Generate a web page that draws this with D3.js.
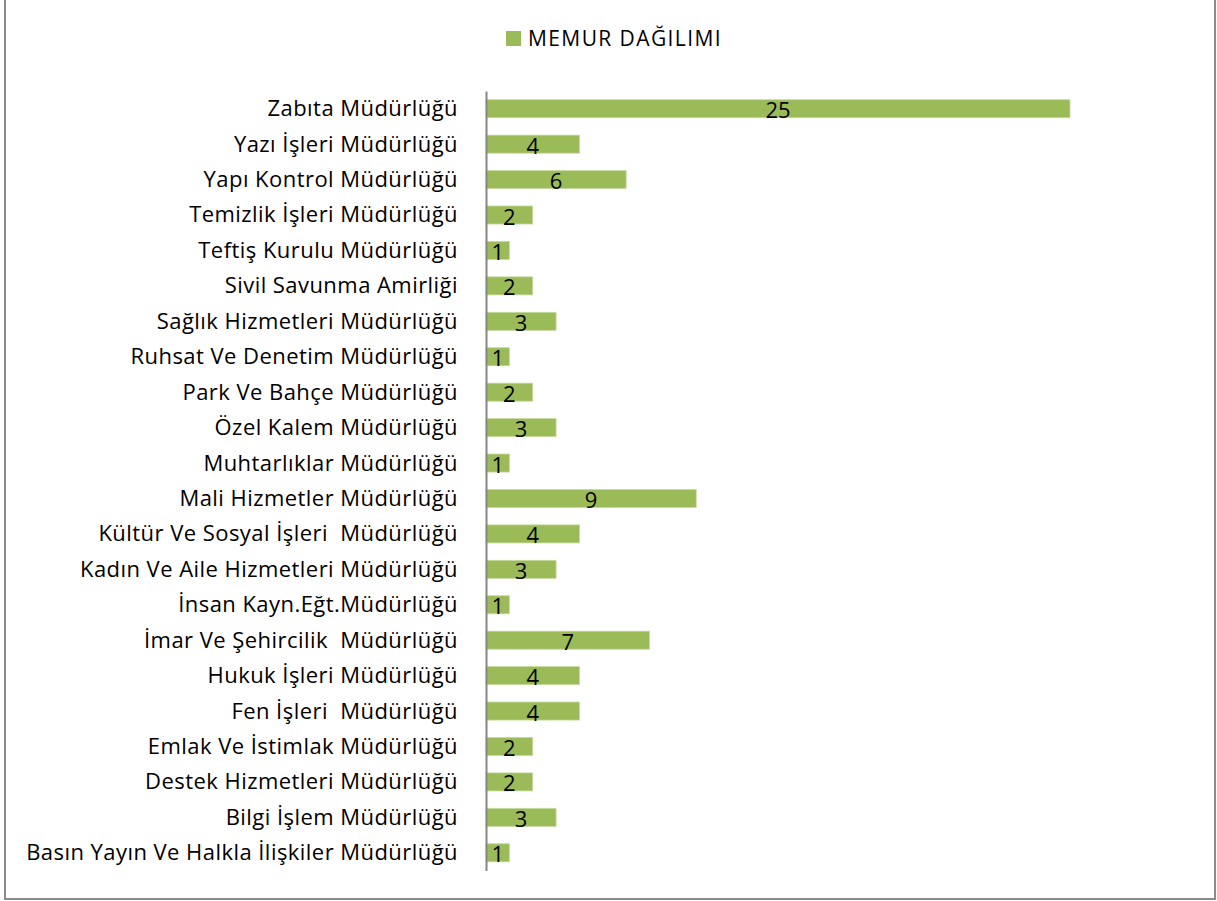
<!DOCTYPE html>
<html>
<head>
<meta charset="utf-8">
<script src="https://cdn.jsdelivr.net/npm/d3@7"></script>
<style>
  html, body { margin: 0; padding: 0; background: #fff; }
  svg { display: block; font-family: "Open Sans", "Noto Sans", sans-serif; }
</style>
</head>
<body>
<svg id="chart" width="1217" height="901"></svg>
<script>
// top to bottom, as in the chart
const categories = [
  'Zabıta Müdürlüğü',
  'Yazı İşleri Müdürlüğü',
  'Yapı Kontrol Müdürlüğü',
  'Temizlik İşleri Müdürlüğü',
  'Teftiş Kurulu Müdürlüğü',
  'Sivil Savunma Amirliği',
  'Sağlık Hizmetleri Müdürlüğü',
  'Ruhsat Ve Denetim Müdürlüğü',
  'Park Ve Bahçe Müdürlüğü',
  'Özel Kalem Müdürlüğü',
  'Muhtarlıklar Müdürlüğü',
  'Mali Hizmetler Müdürlüğü',
  'Kültür Ve Sosyal İşleri  Müdürlüğü',
  'Kadın Ve Aile Hizmetleri Müdürlüğü',
  'İnsan Kayn.Eğt.Müdürlüğü',
  'İmar Ve Şehircilik  Müdürlüğü',
  'Hukuk İşleri Müdürlüğü',
  'Fen İşleri  Müdürlüğü',
  'Emlak Ve İstimlak Müdürlüğü',
  'Destek Hizmetleri Müdürlüğü',
  'Bilgi İşlem Müdürlüğü',
  'Basın Yayın Ve Halkla İlişkiler Müdürlüğü'
];
const memur = [25, 4, 6, 2, 1, 2, 3, 1, 2, 3, 1, 9, 4, 3, 1, 7, 4, 4, 2, 2, 3, 1];
const seriesName = 'MEMUR DAĞILIMI';

const data = categories.map((c, i) => ({ name: c, value: memur[i] }));

const svg = d3.select('#chart');
const green = '#9bbb59';

// outer frame
svg.append('rect')
  .attr('x', 5).attr('y', -5)
  .attr('width', 1210).attr('height', 904)
  .attr('fill', 'none')
  .attr('stroke', '#8c8c8c')
  .attr('stroke-width', 2);

const x = d3.scaleLinear()
  .domain([0, 25])
  .range([486, 1070]);

const y = d3.scaleBand()
  .domain(categories)
  .range([91, 870.5])
  .paddingInner(0.49)
  .paddingOuter(0.245);

// bars
svg.append('g')
  .selectAll('rect')
  .data(data)
  .join('rect')
  .attr('x', x(0))
  .attr('y', d => y(d.name))
  .attr('width', d => x(d.value) - x(0))
  .attr('height', y.bandwidth())
  .attr('fill', green)
  .attr('stroke', '#c7dba0')
  .attr('stroke-width', 0.8);

// value labels, centred in the bar
svg.append('g')
  .selectAll('text')
  .data(data)
  .join('text')
  .attr('x', d => (x(0) + x(d.value)) / 2)
  .attr('y', d => y(d.name) + y.bandwidth() / 2 + 9.5)
  .attr('text-anchor', 'middle')
  .attr('font-size', '22px')
  .attr('fill', '#000')
  .text(d => d.value);

// category axis
const yAxis = svg.append('g')
  .attr('transform', `translate(${x(0)},0)`)
  .call(d3.axisLeft(y).tickSize(0).tickPadding(28));
yAxis.select('.domain')
  .attr('stroke', '#868686')
  .attr('stroke-width', 2);
yAxis.selectAll('text')
  .attr('font-size', '22px')
  .attr('font-family', '"Open Sans", sans-serif')
  .attr('letter-spacing', '0.45px')
  .attr('fill', '#000')
  .attr('dy', '0.34em')
  .style('white-space', 'pre');

// legend
const legend = svg.append('g');
legend.append('rect')
  .attr('x', 506).attr('y', 31)
  .attr('width', 15).attr('height', 15)
  .attr('fill', green);
legend.append('text')
  .attr('x', 528).attr('y', 46)
  .attr('font-size', '21px')
  .attr('letter-spacing', '1.4px')
  .attr('fill', '#000')
  .text(seriesName);
</script>
</body>
</html>
